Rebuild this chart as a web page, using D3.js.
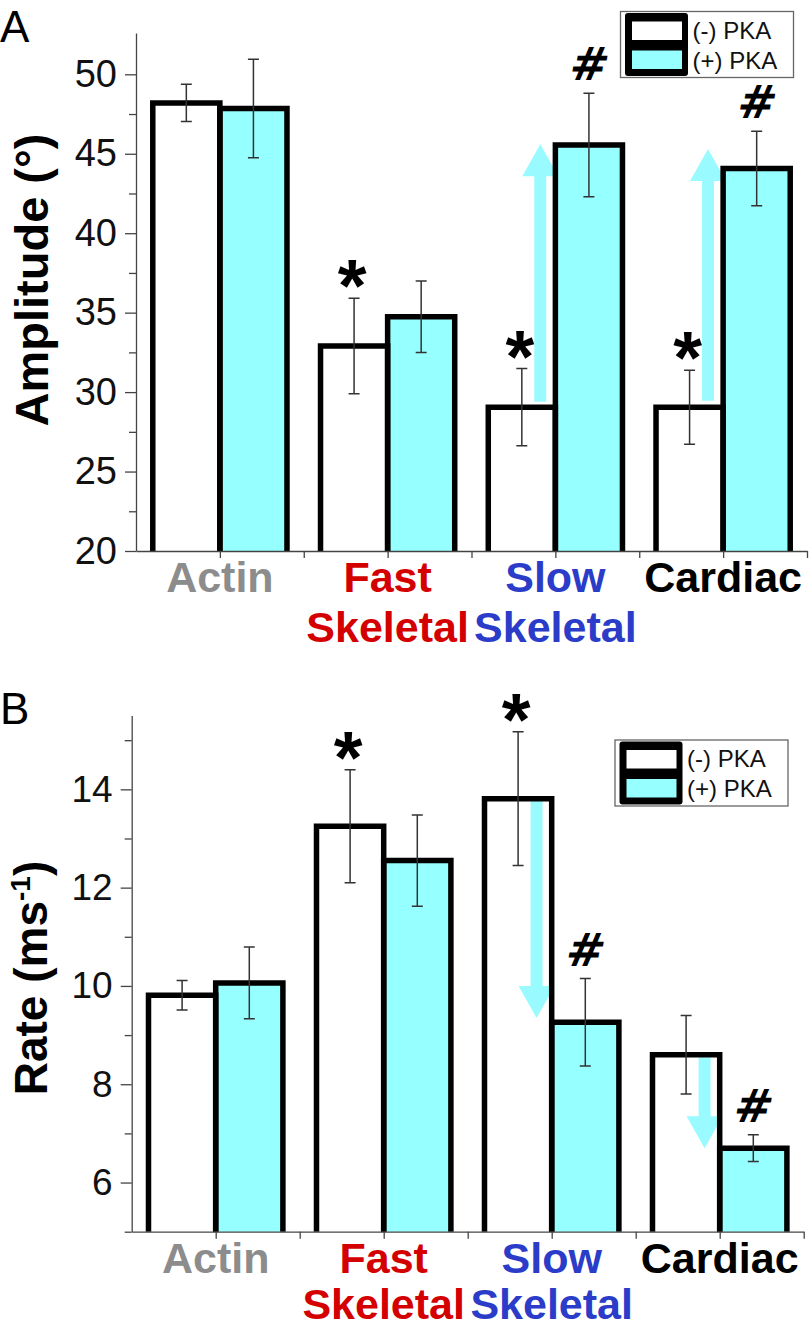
<!DOCTYPE html>
<html>
<head>
<meta charset="utf-8">
<script src="https://cdn.jsdelivr.net/npm/d3@7"></script>
<style>
html,body{margin:0;padding:0;background:#fff;}
svg{display:block;font-family:"Liberation Sans",Arial,sans-serif;}
</style>
</head>
<body>
<script>
// ---------- data ----------
const categories = ["Actin", "Fast Skeletal", "Slow Skeletal", "Cardiac"];
const categoryLines = [["Actin"], ["Fast", "Skeletal"], ["Slow", "Skeletal"], ["Cardiac"]];
const categoryColors = ["#8c8c8c", "#d40000", "#2a3cc8", "#000000"];
const seriesNames = ["(-) PKA", "(+) PKA"];

// Panel A: Amplitude (deg)
const ampMinus    = [48.2, 32.9, 29.05, 29.05];
const ampMinusErr = [1.17, 3.0, 2.43, 2.33];
const ampPlus     = [47.85, 34.75, 45.55, 44.07];
const ampPlusErr  = [3.1, 2.25, 3.26, 2.34];
const ampMinusMark = ["", "*", "*", "*"];
const ampPlusMark  = ["", "", "#", "#"];
const ampArrowCat  = ["Slow Skeletal", "Cardiac"];
const ampArrowFrom = [29.4, 29.45];
const ampArrowTo   = [45.6, 45.3];
const ampTicks = [20, 25, 30, 35, 40, 45, 50];
const ampMinorTicks = [22.5, 27.5, 32.5, 37.5, 42.5, 47.5];

// Panel B: Rate (ms^-1)
const rateMinus    = [9.81, 13.25, 13.81, 8.6];
const rateMinusErr = [0.3, 1.15, 1.36, 0.8];
const ratePlus     = [10.06, 12.55, 9.26, 6.7];
const ratePlusErr  = [0.73, 0.93, 0.89, 0.27];
const rateMinusMark = ["", "*", "*", ""];
const ratePlusMark  = ["", "", "#", "#"];
const rateArrowCat  = ["Slow Skeletal", "Cardiac"];
const rateArrowFrom = [13.8, 8.55];
const rateArrowTo   = [9.35, 6.7];
const rateTicks = [6, 8, 10, 12, 14];
const rateMinorTicks = [5, 7, 9, 11, 13, 15];

// ---------- drawing ----------
const W = 812, H = 1328;
const CYAN = "#96ffff";
const ARROW = "#99fbff";
const FONT = "'Liberation Sans', Arial, sans-serif";

const svg = d3.select("body").append("svg").attr("width", W).attr("height", H);

function drawPanel(o) {
  const g = svg.append("g");
  const x = d3.scaleBand().domain(categories).range([o.x0, o.x1]).padding(0);
  const y = d3.scaleLinear().domain(o.yDomain).range([o.yBottom, o.yTop]);
  const bw = x.bandwidth() * 0.4;
  const cx = c => x(c) + x.bandwidth() / 2;

  const rows = categories.map((c, i) => ({
    c, i,
    m: o.minus[i], me: o.minusErr[i], p: o.plus[i], pe: o.plusErr[i],
    mm: o.minusMark[i], pm: o.plusMark[i]
  }));
  g.selectAll("rect.m").data(rows).join("rect")
    .attr("x", d => cx(d.c) - bw).attr("width", bw)
    .attr("y", d => y(d.m)).attr("height", d => o.yBottom - y(d.m))
    .attr("fill", "#fff");
  g.selectAll("rect.p").data(rows).join("rect")
    .attr("x", d => cx(d.c)).attr("width", bw)
    .attr("y", d => y(d.p)).attr("height", d => o.yBottom - y(d.p))
    .attr("fill", CYAN);

  // arrows
  o.arrowCat.forEach((c, k) => {
    const ax = cx(c) - 0.09 * x.bandwidth();
    const y0 = y(o.arrowFrom[k]), y1 = y(o.arrowTo[k]);
    const dir = y1 < y0 ? -1 : 1;
    const hl = 32, hw = 18, sw = 6;
    const yb = y1 - dir * hl;
    const pts = [[ax - sw, y0], [ax - sw, yb], [ax - hw, yb], [ax, y1], [ax + hw, yb], [ax + sw, yb], [ax + sw, y0]];
    g.append("path").attr("d", d3.line()(pts) + "Z").attr("fill", ARROW);
  });

  // bar outlines (open at bottom)
  const sw = 5.5;
  rows.forEach(d => {
    const l = cx(d.c) - bw, m = cx(d.c), r = cx(d.c) + bw;
    g.append("path")
      .attr("d", `M${l},${o.yBottom}V${y(d.m)}H${m}V${o.yBottom}`)
      .attr("fill", "none").attr("stroke", "#000").attr("stroke-width", sw);
    g.append("path")
      .attr("d", `M${m},${o.yBottom}V${y(d.p)}H${r}V${o.yBottom}`)
      .attr("fill", "none").attr("stroke", "#000").attr("stroke-width", sw);
  });

  // error bars + significance marks
  const eb = [];
  rows.forEach(d => {
    eb.push({x: cx(d.c) - bw / 2, v: d.m, e: d.me, mark: d.mm});
    eb.push({x: cx(d.c) + bw / 2, v: d.p, e: d.pe, mark: d.pm});
  });
  const cap = 5.5;
  eb.forEach(d => {
    const t = y(d.v + d.e), b = y(d.v - d.e);
    g.append("path")
      .attr("d", `M${d.x},${t}V${b}M${d.x - cap},${t}H${d.x + cap}M${d.x - cap},${b}H${d.x + cap}`)
      .attr("stroke", "#333").attr("stroke-width", 1.5).attr("fill", "none");
    if (d.mark) {
      const cy = t - 30;
      if (d.mark === "*") {
        g.append("text").attr("x", d.x - 2).attr("y", cy + 43)
          .attr("text-anchor", "middle").attr("font-family", FONT)
          .attr("font-weight", "bold").attr("font-size", 74).text("*");
      } else {
        g.append("text").attr("transform", `translate(${d.x - 2},${cy + 17}) skewX(-10)`)
          .attr("text-anchor", "middle").attr("font-family", "'DejaVu Sans', sans-serif")
          .attr("font-weight", "bold").attr("font-size", 46).text("#");
      }
    }
  });

  // y axis
  const yAxis = g.append("g").attr("transform", `translate(${o.x0},0)`)
    .call(d3.axisLeft(y).tickValues(o.ticks).tickSize(11).tickSizeOuter(0).tickPadding(8));
  yAxis.select(".domain").attr("stroke", "#444").attr("stroke-width", 1.3);
  yAxis.selectAll(".tick line").attr("stroke", "#444").attr("stroke-width", 1.3);
  yAxis.selectAll(".tick text").attr("font-family", FONT).attr("font-size", o.tickFont).attr("fill", "#111");
  const yMinor = g.append("g").attr("transform", `translate(${o.x0},0)`)
    .call(d3.axisLeft(y).tickValues(o.minorTicks).tickSize(7).tickFormat(""));
  yMinor.select(".domain").remove();
  yMinor.selectAll(".tick line").attr("stroke", "#444").attr("stroke-width", 1.3);

  // x axis
  const xl = d3.scaleLinear().domain([0, categories.length]).range([o.x0, o.x1]);
  const xAxis = g.append("g").attr("transform", `translate(0,${o.yBottom})`)
    .call(d3.axisBottom(xl).tickValues(d3.range(1, 2 * categories.length + 1).map(v => v / 2))
      .tickSize(7).tickSizeOuter(0).tickFormat(""));
  xAxis.select(".domain").attr("stroke", "#444").attr("stroke-width", 1.3);
  xAxis.selectAll(".tick line").attr("stroke", "#444").attr("stroke-width", 1.3);

  // category labels
  categories.forEach((c, i) => {
    const t = g.append("text").attr("x", cx(c)).attr("y", o.yBottom + 41)
      .attr("text-anchor", "middle").attr("font-family", FONT).attr("font-weight", "bold")
      .attr("font-size", 43).attr("fill", categoryColors[i]);
    categoryLines[i].forEach((ln, j) => {
      t.append("tspan").attr("x", cx(c)).attr("dy", j === 0 ? 0 : o.lineGap).text(ln);
    });
  });

  // y label
  const yl = g.append("text").attr("transform", `translate(${o.labelX},${o.labelY}) rotate(-90)`)
    .attr("text-anchor", "middle").attr("font-family", FONT).attr("font-weight", "bold")
    .attr("font-size", o.labelFont).attr("fill", "#000");
  o.labelParts(yl);

  // panel letter
  g.append("text").attr("x", 0).attr("y", o.letterY).attr("font-family", FONT)
    .attr("font-size", 44).text(o.letter);

  // legend
  const L = o.legend;
  g.append("rect").attr("x", L.x).attr("y", L.y).attr("width", 173).attr("height", 66)
    .attr("fill", "#fff").attr("stroke", "#666").attr("stroke-width", 1.3);
  g.append("rect").attr("x", L.x + 4.5).attr("y", L.y + 1.5).attr("width", 63).attr("height", 63)
    .attr("rx", 3).attr("fill", "#000");
  g.append("rect").attr("x", L.x + 11.5).attr("y", L.y + 10).attr("width", 50).attr("height", 18.5)
    .attr("fill", "#fff");
  g.append("rect").attr("x", L.x + 11.5).attr("y", L.y + 39).attr("width", 50).attr("height", 18.5)
    .attr("fill", CYAN);
  seriesNames.forEach((s, i) => {
    g.append("text").attr("x", L.x + 72).attr("y", L.y + 27 + i * 30)
      .attr("font-family", FONT).attr("font-size", 24).attr("fill", "#111").text(s);
  });
}

drawPanel({
  letter: "A", letterY: 42,
  x0: 136, x1: 807, yBottom: 551, yTop: 33, yDomain: [20, 52.6],
  minus: ampMinus, minusErr: ampMinusErr, plus: ampPlus, plusErr: ampPlusErr,
  minusMark: ampMinusMark, plusMark: ampPlusMark,
  arrowCat: ampArrowCat, arrowFrom: ampArrowFrom, arrowTo: ampArrowTo,
  ticks: ampTicks, minorTicks: ampMinorTicks, tickFont: 38,
  labelX: 48, labelY: 280, labelFont: 47, lineGap: 50,
  labelParts: t => t.text("Amplitude (°)"),
  legend: {x: 620.5, y: 11.5}
});

drawPanel({
  letter: "B", letterY: 724,
  x0: 131.7, x1: 803.7, yBottom: 1231.7, yTop: 715.6, yDomain: [5, 15.5],
  minus: rateMinus, minusErr: rateMinusErr, plus: ratePlus, plusErr: ratePlusErr,
  minusMark: rateMinusMark, plusMark: ratePlusMark,
  arrowCat: rateArrowCat, arrowFrom: rateArrowFrom, arrowTo: rateArrowTo,
  ticks: rateTicks, minorTicks: rateMinorTicks, tickFont: 37,
  labelX: 47, labelY: 978, labelFont: 46, lineGap: 46,
  labelParts: t => {
    t.append("tspan").text("Rate (ms");
    t.append("tspan").attr("font-size", 28).attr("dy", -17).text("-1");
    t.append("tspan").attr("dy", 17).text(")");
  },
  legend: {x: 615, y: 740}
});
</script>
</body>
</html>
